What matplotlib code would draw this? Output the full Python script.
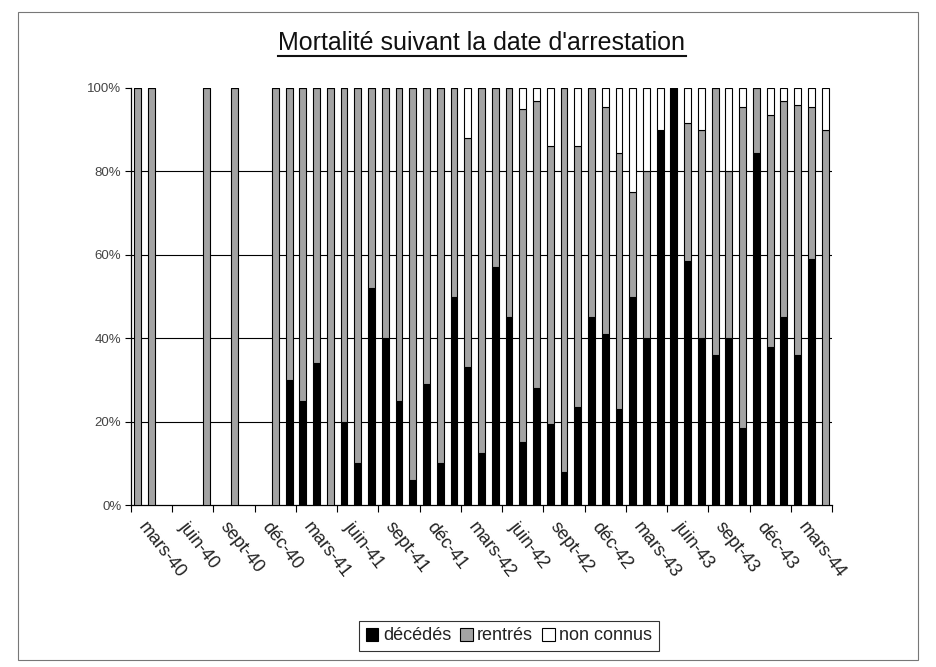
import matplotlib
matplotlib.use("Agg")
import matplotlib.pyplot as plt
import matplotlib.transforms as mtransforms
import numpy as np
from matplotlib.patches import Patch, Rectangle
from matplotlib.lines import Line2D

plt.rcParams['font.family'] = ['Liberation Sans', 'DejaVu Sans']

# one slot per month, mars 1940 -> mai 1944
mois = ["mars-40", "avr-40", "mai-40", "juin-40", "juil-40", "août-40", "sept-40", "oct-40",
        "nov-40", "déc-40", "janv-41", "févr-41", "mars-41", "avr-41", "mai-41", "juin-41",
        "juil-41", "août-41", "sept-41", "oct-41", "nov-41", "déc-41", "janv-42", "févr-42",
        "mars-42", "avr-42", "mai-42", "juin-42", "juil-42", "août-42", "sept-42", "oct-42",
        "nov-42", "déc-42", "janv-43", "févr-43", "mars-43", "avr-43", "mai-43", "juin-43",
        "juil-43", "août-43", "sept-43", "oct-43", "nov-43", "déc-43", "janv-44", "févr-44",
        "mars-44", "avr-44", "mai-44"]

# percentages per month (None = no arrests that month)
decedes = [0, 0, None, None, None, 0, None, 0, None, None, 0, 30, 25, 34, 0, 20,
           10, 52, 40, 25, 6, 29, 10, 50, 33, 12.5, 57, 45, 15, 28, 19.5, 8,
           23.5, 45, 41, 23, 50, 40, 90, 100, 58.5, 40, 36, 40, 18.5, 84.5, 38, 45,
           36, 59, 0]
rentres = [100, 100, None, None, None, 100, None, 100, None, None, 100, 70, 75, 66, 100, 80,
           90, 48, 60, 75, 94, 71, 90, 50, 55, 87.5, 43, 55, 80, 69, 66.5, 92,
           62.5, 55, 54.5, 61.5, 25, 40, 0, 0, 33, 50, 64, 40, 77, 15.5, 55.5, 52,
           60, 36.5, 90]
non_connus = [0, 0, None, None, None, 0, None, 0, None, None, 0, 0, 0, 0, 0, 0,
              0, 0, 0, 0, 0, 0, 0, 0, 12, 0, 0, 0, 5, 3, 14, 0,
              14, 0, 4.5, 15.5, 25, 20, 10, 0, 8.5, 10, 0, 20, 4.5, 0, 6.5, 3,
              4, 4.5, 10]

series = [("décédés", decedes, "black"),
          ("rentrés", rentres, "#a3a3a3"),
          ("non connus", non_connus, "white")]

fig = plt.figure(figsize=(9.37, 6.67), dpi=100)
ax = fig.add_axes([131 / 937, 1 - 505 / 667, (832 - 131) / 937, (505 - 88) / 667])

x = np.arange(len(mois))
has = np.array([v is not None for v in decedes])
bottom = np.zeros(len(mois))
for name, vals, col in series:
    v = np.array([0 if a is None else a for a in vals], dtype=float)
    ax.bar(x[has], v[has], width=0.5, bottom=bottom[has], color=col,
           edgecolor="black", linewidth=0.8, zorder=3, label=name)
    bottom += v

for g in [20, 40, 60, 80]:
    ax.axhline(g, color="black", linewidth=0.8, zorder=1)

ax.set_xlim(-0.5, len(mois) - 0.5)
ax.set_ylim(0, 100)
ax.set_yticks([0, 20, 40, 60, 80, 100])
ax.set_yticklabels([f"{t}%" for t in [0, 20, 40, 60, 80, 100]], fontsize=9.5, color="#444444")
ax.tick_params(axis="y", direction="out", length=4, width=0.8, pad=3)

# quarter boundaries carry the tick marks, labels sit under the first month of each quarter
ax.set_xticks(np.arange(-0.5, len(mois), 3))
ax.set_xticklabels([])
ax.tick_params(axis="x", which="major", direction="out", length=5, width=0.8)
lab_tr = ax.get_xaxis_transform() + mtransforms.ScaledTranslation(10 / 100, -14 / 100,
                                                                  fig.dpi_scale_trans)
for xi in x[::3]:
    ax.text(xi, 0, mois[xi], transform=lab_tr, rotation=-52, ha="left", va="top",
            rotation_mode="anchor", fontsize=13, color="#222222", clip_on=False)

for s in ["top", "right"]:
    ax.spines[s].set_visible(False)
for s in ["left", "bottom"]:
    ax.spines[s].set_linewidth(0.9)

title = fig.text(482 / 937, 1 - 43 / 667, "Mortalité suivant la date d'arrestation",
                 ha="center", va="center", fontsize=18, color="#111111")
fig.canvas.draw()
bb = title.get_window_extent().transformed(fig.transFigure.inverted())
fig.add_artist(Line2D([bb.x0, bb.x1], [bb.y0 - 0.002, bb.y0 - 0.002], color="#111111",
                      linewidth=1.5, transform=fig.transFigure))

handles = [Patch(facecolor=c, edgecolor="black", linewidth=0.8, label=n) for n, _, c in series]
leg = fig.legend(handles=handles, loc="center", bbox_to_anchor=(509 / 937, 1 - 636 / 667),
                 ncol=3, fontsize=13, frameon=True, fancybox=False, edgecolor="black",
                 handlelength=0.7, handleheight=0.7, handletextpad=0.25, columnspacing=0.5,
                 borderpad=0.35)
leg.get_frame().set_linewidth(0.8)
for t in leg.get_texts():
    t.set_color("#222222")

fig.add_artist(Rectangle((18 / 937, 7 / 667), (918 - 18) / 937, (655 - 7) / 667,
                         fill=False, edgecolor="#777777", linewidth=0.8,
                         transform=fig.transFigure))

fig.savefig("out.png", dpi=100)
